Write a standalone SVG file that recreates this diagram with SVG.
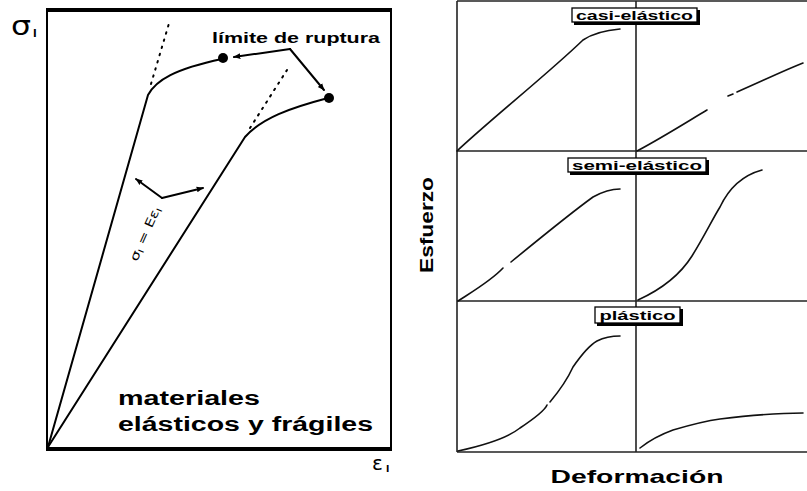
<svg xmlns="http://www.w3.org/2000/svg" width="807" height="491" viewBox="0 0 807 491">
<defs>
<marker id="ah" viewBox="0 0 10 10" refX="9" refY="5" markerWidth="7" markerHeight="7" orient="auto" markerUnits="userSpaceOnUse"><path d="M0,1 L10,5 L0,9 Z" fill="#000"/></marker>
<style>
.t{font-family:"Liberation Sans",Arial,sans-serif;font-weight:bold;fill:#000}
.ax{font-family:"DejaVu Sans","Liberation Sans",sans-serif;fill:#000}
.c{fill:none;stroke:#000;stroke-width:2;stroke-linejoin:round;stroke-linecap:round}
.d{fill:none;stroke:#000;stroke-width:2;stroke-dasharray:1.5 6;stroke-linecap:round}
.g{stroke:#222;stroke-width:1.6;fill:none}
.k{fill:none;stroke:#111;stroke-width:1.6;stroke-linecap:round}
.lb{fill:#fff;stroke:#000;stroke-width:1.3}
.sh{fill:#000}
</style>
</defs>
<rect width="807" height="491" fill="#fff"/>

<g id="left-frame">
<line x1="47" y1="10" x2="47" y2="449" stroke="#000" stroke-width="2"/>
<line x1="391" y1="10" x2="391" y2="449" stroke="#000" stroke-width="2"/>
<line x1="46" y1="10" x2="392" y2="10" stroke="#000" stroke-width="4"/>
<line x1="46" y1="449" x2="392" y2="449" stroke="#000" stroke-width="4"/>
<text class="ax" x="11" y="35" font-size="26" textLength="20" lengthAdjust="spacingAndGlyphs">σ</text>
<text class="ax" x="33" y="37" font-size="10" font-weight="bold">I</text>
<text class="ax" x="372" y="470" font-size="20">ε</text>
<text class="ax" x="386" y="472" font-size="9" font-weight="bold">I</text>
</g>

<g id="curve-a">
<path class="c" d="M48,447 L148,95 C156,80 175,69 222,59"/>
<path class="d" d="M151,84 L170,20"/>
<circle cx="223" cy="58" r="5" fill="#000"/>
</g>
<g id="curve-b">
<path class="c" d="M48,447 L245,137 C262,118 290,108 328,98"/>
<path class="d" d="M250,128 L287,70"/>
<circle cx="329" cy="98" r="5" fill="#000"/>
</g>

<g id="label-ruptura">
<text class="t" x="212" y="43" font-size="15" textLength="168" lengthAdjust="spacingAndGlyphs">límite de ruptura</text>
</g>
<g id="label-formula">
<text class="ax" font-size="12" transform="translate(137,262) rotate(-66)" textLength="58" lengthAdjust="spacingAndGlyphs">σ<tspan font-size="8" dy="2">I</tspan><tspan dy="-2"> = Eε</tspan><tspan font-size="8" dy="2">I</tspan></text>
</g>
<g id="label-materiales">
<text class="t" x="118" y="405" font-size="20" textLength="142" lengthAdjust="spacingAndGlyphs">materiales</text>
<text class="t" x="118" y="431" font-size="20" textLength="255" lengthAdjust="spacingAndGlyphs">elásticos y frágiles</text>
</g>

<g id="connectors">
<path class="c" d="M290,49 L234,57" marker-end="url(#ah)"/>
<path class="c" d="M290,49 L324,90" marker-end="url(#ah)"/>
<path class="c" stroke-width="1.6" d="M162,198 L136,179" marker-end="url(#ah)"/>
<path class="c" stroke-width="1.6" d="M162,198 L203,188" marker-end="url(#ah)"/>
</g>

<g id="grid">
<line class="g" x1="457" y1="1" x2="807" y2="1"/>
<line class="g" x1="457" y1="151" x2="807" y2="151"/>
<line class="g" x1="457" y1="301" x2="807" y2="301"/>
<line class="g" x1="457" y1="452" x2="807" y2="452"/>
<line class="g" x1="457" y1="1" x2="457" y2="452"/>
<line class="g" x1="636" y1="1" x2="636" y2="452"/>
</g>

<g id="casi-elastico">
<rect class="sh" x="574" y="10" width="126" height="15"/>
<rect class="lb" x="572" y="8" width="125" height="14"/>
<text class="t" x="634.5" y="20" font-size="13" text-anchor="middle" textLength="117" lengthAdjust="spacingAndGlyphs">casi-elástico</text>
<path class="k" d="M457,151 C490,120 550,72 583,40 C595,32 608,30 620,29"/>
<path class="k" d="M637,151 C665,136 690,120 707,110 M728,96 L733,94 M737,92 C760,82 785,70 803,63"/>
</g>

<g id="semi-elastico">
<rect class="sh" x="570" y="160" width="139" height="15"/>
<rect class="lb" x="568" y="158" width="138" height="14"/>
<text class="t" x="637" y="170" font-size="13" text-anchor="middle" textLength="130" lengthAdjust="spacingAndGlyphs">semi-elástico</text>
<path class="k" d="M458,301 C475,290 492,280 503,268 M511,262 C550,230 575,210 593,197 C602,192 612,189 620,189"/>
<path class="k" d="M638,300 C660,290 680,275 692,256 C705,235 712,220 720,207 C728,190 740,176 762,170"/>
</g>

<g id="plastico">
<rect class="sh" x="597" y="309" width="86" height="17"/>
<rect class="lb" x="595" y="307" width="85" height="16"/>
<text class="t" x="637.5" y="320" font-size="13" text-anchor="middle" textLength="76" lengthAdjust="spacingAndGlyphs">plástico</text>
<path class="k" d="M458,451 C490,444 510,436 520,428 C535,418 545,410 547,405 M550,402 C560,390 568,378 573,367 C582,354 590,345 597,341 C605,337 612,336 620,336"/>
<path class="k" d="M640,448 C650,440 662,434 673,430 C690,425 705,421 720,419 C745,416 770,413 803,413"/>
</g>

<g id="axis-labels">
<text class="t" font-size="18" text-anchor="middle" transform="translate(433,225) rotate(-90)" textLength="96" lengthAdjust="spacingAndGlyphs">Esfuerzo</text>
<text class="t" x="637" y="483" font-size="19" text-anchor="middle" textLength="173" lengthAdjust="spacingAndGlyphs">Deformación</text>
</g>
</svg>
